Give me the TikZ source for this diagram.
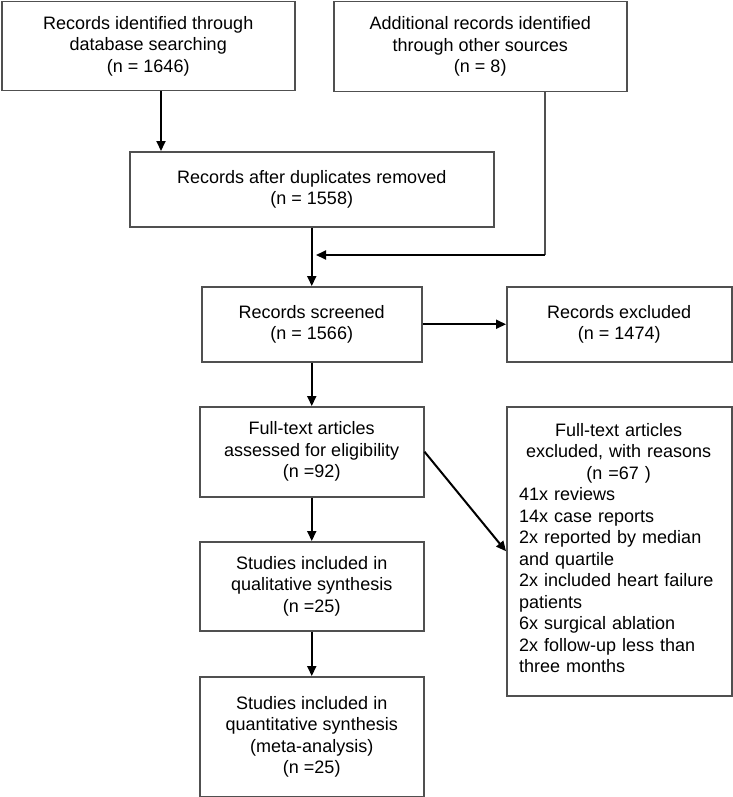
\documentclass[tikz,border=0pt]{standalone}
\usepackage{fontspec}
\setmainfont{Liberation Sans}
\usetikzlibrary{arrows.meta}
\definecolor{boxgray}{HTML}{505050}
\begin{document}
\begin{tikzpicture}[x=1pt,y=-1pt,
  txt/.style={font=\fontsize{18}{21.5}\selectfont},
  box/.style={txt, draw=boxgray, line width=1.5pt, anchor=north west, inner sep=0pt, align=center},
  arr/.style={draw=black, line width=2pt, -{Triangle[length=10pt,width=9pt]}},
  feed/.style={draw=boxgray, line width=1.5pt}]
\useasboundingbox (0,0) rectangle (732,797);
% boxes
\node[box, minimum width=293pt, minimum height=89pt] (ident) at (1,1)
  {Records identified through\\database searching\\(n = 1646)};
\node[box, minimum width=293pt, minimum height=90pt] (srcs) at (333,1)
  {Additional records identified\\through other sources\\(n = 8)};
\node[box, minimum width=364pt, minimum height=75pt] (dedup) at (129,151)
  {Records after duplicates removed\\(n = 1558)};
\node[box, minimum width=220pt, minimum height=75pt] (screen) at (201,286)
  {Records screened\\(n = 1566)};
\node[box, minimum width=225pt, minimum height=75pt] (recexcl) at (506,286)
  {Records excluded\\(n = 1474)};
\node[box, minimum width=224pt, minimum height=90pt] (fulltext) at (199,406)
  {Full-text articles\\assessed for eligibility\\(n =92)};
\node[box, minimum width=225pt, minimum height=289pt] (fullexcl) at (506,406) {};
\node[txt, anchor=north west, inner sep=0pt, text width=199pt, align=left] (fullexcltext) at (519,423)
  {\parindent=0pt{\centering Full-text articles\\excluded, with reasons\\(n =67 )\par}
   41x reviews\\14x case reports\\2x reported by median\\and quartile\\2x included heart failure\\patients\\6x surgical ablation\\2x follow-up less than\\three months};
\node[box, minimum width=224pt, minimum height=89pt] (qual) at (199,541)
  {Studies included in\\qualitative synthesis\\(n =25)};
\node[box, minimum width=224pt, minimum height=120pt] (quant) at (199,676)
  {Studies included in\\quantitative synthesis\\(meta-analysis)\\(n =25)};
% helper coordinates
\coordinate (arrx) at (161,0);
\coordinate (corner) at (545,255);
\coordinate (join) at (316,255);
% connectors
\draw[arr] (ident.south -| arrx) -- (arrx |- dedup.north);
\draw[feed] (srcs.south -| corner) -- (corner);
\draw[arr] (corner) -- (join);
\draw[arr] (dedup.south) -- (dedup.south |- screen.north);
\draw[arr] (screen.east) -- (screen.east -| recexcl.west);
\draw[arr] (screen.south) -- (screen.south |- fulltext.north);
\draw[arr] (fulltext.east) -- (fullexcl.west);
\draw[arr] (fulltext.south) -- (fulltext.south |- qual.north);
\draw[arr] (qual.south) -- (qual.south |- quant.north);
\end{tikzpicture}
\end{document}
